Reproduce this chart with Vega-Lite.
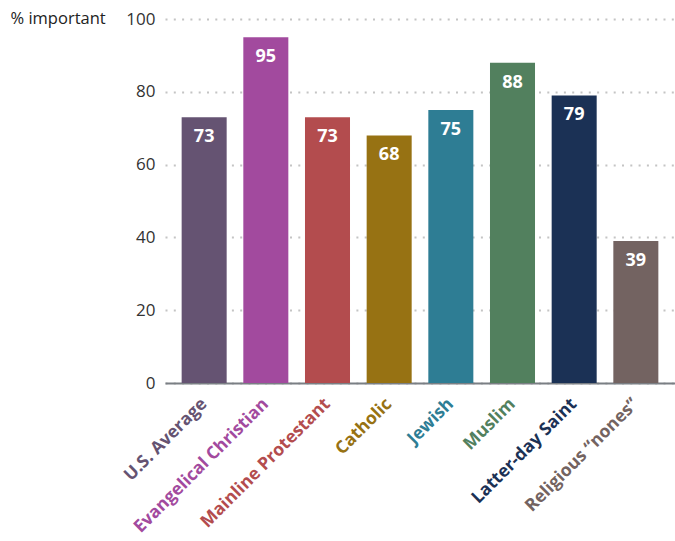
{
  "$schema": "https://vega.github.io/schema/vega-lite/v6.json",
  "autosize": {"type": "none"},
  "padding": {"left": 165, "top": 19, "right": 0, "bottom": 158},
  "width": 510,
  "height": 364,
  "background": "white",
  "config": {"view": {"stroke": null}, "font": "Open Sans"},
  "data": {"values": [
    {"group": "U.S. Average", "value": 73, "color": "#655372"},
    {"group": "Evangelical Christian", "value": 95, "color": "#a24a9e"},
    {"group": "Mainline Protestant", "value": 73, "color": "#b34c4e"},
    {"group": "Catholic", "value": 68, "color": "#977213"},
    {"group": "Jewish", "value": 75, "color": "#2e7d94"},
    {"group": "Muslim", "value": 88, "color": "#52805e"},
    {"group": "Latter-day Saint", "value": 79, "color": "#1b3155"},
    {"group": "Religious “nones”", "value": 39, "color": "#736361"}
  ]},
  "encoding": {
    "x": {
      "field": "group", "type": "nominal", "sort": null,
      "scale": {"paddingInner": 0.27, "paddingOuter": 0.27},
      "axis": {
        "title": null, "labelAngle": -45, "labelAlign": "right", "labelBaseline": "middle",
        "labelFontSize": 17.5, "labelFontWeight": "bold", "labelPadding": 18,
        "ticks": false, "domainColor": "#7a7f84", "domainWidth": 2, "grid": false,
        "labelOverlap": false, "labelBound": false, "labelLimit": 300,
        "labelColor": {
          "condition": [
            {"test": "datum.value === 'U.S. Average'", "value": "#655372"},
            {"test": "datum.value === 'Evangelical Christian'", "value": "#a24a9e"},
            {"test": "datum.value === 'Mainline Protestant'", "value": "#b34c4e"},
            {"test": "datum.value === 'Catholic'", "value": "#977213"},
            {"test": "datum.value === 'Jewish'", "value": "#2e7d94"},
            {"test": "datum.value === 'Muslim'", "value": "#52805e"},
            {"test": "datum.value === 'Latter-day Saint'", "value": "#1b3155"}
          ],
          "value": "#736361"
        }
      }
    },
    "y": {
      "field": "value", "type": "quantitative",
      "scale": {"domain": [0, 100], "nice": false},
      "axis": {
        "title": "% important", "titleAngle": 0, "titleAlign": "left", "titleBaseline": "alphabetic",
        "titleX": -155, "titleY": 4, "titleFontSize": 16.5, "titleFontWeight": "normal", "titleColor": "#222",
        "values": [0, 20, 40, 60, 80, 100],
        "labelFontSize": 17, "labelColor": "#333", "labelPadding": 10,
        "ticks": false, "domain": false,
        "grid": true, "gridColor": "#c4c4c4", "gridWidth": 2, "gridDash": [2, 6.3], "gridCap": "butt"
      }
    }
  },
  "layer": [
    {
      "mark": {"type": "bar"},
      "encoding": {"color": {"field": "color", "type": "nominal", "scale": null, "legend": null}}
    },
    {
      "mark": {"type": "text", "baseline": "middle", "dy": 20, "fontSize": 18, "fontWeight": "bold", "color": "white"},
      "encoding": {"text": {"field": "value", "type": "quantitative"}}
    }
  ]
}
